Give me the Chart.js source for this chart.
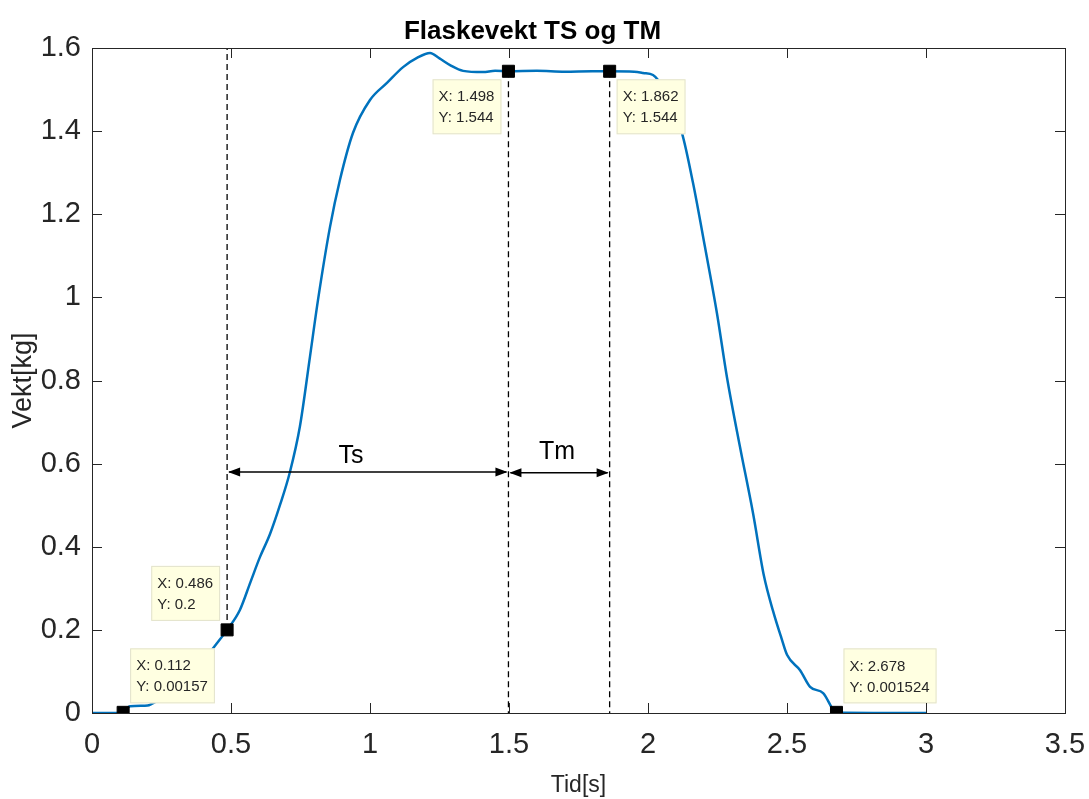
<!DOCTYPE html>
<html>
<head>
<meta charset="utf-8">
<title>Flaskevekt TS og TM</title>
<script src="https://cdn.jsdelivr.net/npm/chart.js@4.4.1/dist/chart.umd.min.js"></script>
<style>
    html, body { margin: 0; padding: 0; background: #fff; }
    #wrap { width: 1089px; height: 799px; }
</style>
</head>
<body>
<div id="wrap"><canvas id="vekt-chart"></canvas></div>
<script>
// maalt vekt mot tid, lest av plottet
const tid = [0, 0.105, 0.112, 0.137, 0.2, 0.215, 0.25, 0.3, 0.35, 0.4,
    0.435, 0.486, 0.532, 0.57, 0.604, 0.64, 0.676, 0.712, 0.748, 0.784,
    0.813, 0.856, 0.892, 0.939, 1.0, 1.061, 1.119, 1.169, 1.216, 1.25,
    1.288, 1.335, 1.406, 1.45, 1.498, 1.6, 1.7, 1.8, 1.862, 1.95,
    1.982, 2.018, 2.036, 2.07, 2.122, 2.162, 2.205, 2.248, 2.284, 2.331,
    2.378, 2.417, 2.45, 2.48, 2.5, 2.547, 2.583, 2.63, 2.678, 3.0];
const vekt = [0, 0, 0.0016, 0.016, 0.018, 0.022, 0.035, 0.06, 0.088, 0.12,
    0.155, 0.2, 0.248, 0.315, 0.375, 0.43, 0.5, 0.58, 0.69, 0.857,
    0.994, 1.169, 1.283, 1.396, 1.475, 1.516, 1.554, 1.576, 1.588, 1.575,
    1.559, 1.545, 1.542, 1.545, 1.544, 1.545, 1.543, 1.544, 1.544, 1.543,
    1.54, 1.535, 1.523, 1.48, 1.396, 1.275, 1.121, 0.962, 0.808, 0.64,
    0.48, 0.33, 0.245, 0.18, 0.14, 0.103, 0.063, 0.048, 0.0015, 0];

const xTicks = [0, 0.5, 1, 1.5, 2, 2.5, 3, 3.5];
const yTicks = [0, 0.2, 0.4, 0.6, 0.8, 1, 1.2, 1.4, 1.6];

// datatips
const tipX = [0.112, 0.486, 1.498, 1.862, 2.678];
const tipY = [0.00157, 0.2, 1.544, 1.544, 0.001524];
const tipTextX = ['0.112', '0.486', '1.498', '1.862', '2.678'];
const tipTextY = ['0.00157', '0.2', '1.544', '1.544', '0.001524'];
const tipSide = ['ne', 'nw', 'sw', 'se', 'ne'];

// stiplede linjer (x, fra y, til y)
const strekX = [0.486, 1.498, 1.862];
const strekFra = [0.2, 1.544, 1.544];
const strekTil = [1.6, 0, 0];

// piler for Ts og Tm
const pilNavn = ['Ts', 'Tm'];
const pilFra = [0.486, 1.498];
const pilTil = [1.498, 1.862];
const pilY = [0.58, 0.578];
const navnX = [0.932, 1.673];
const navnY = [0.602, 0.61];

const FONT = "'Liberation Sans', Arial, Helvetica, sans-serif";
const INK = '#262626';

const strekSets = strekX.map((x, i) => ({
    data: [{ x: x, y: strekFra[i] }, { x: x, y: strekTil[i] }],
    borderColor: '#000',
    borderWidth: 1.3,
    borderDash: [6, 4],
    pointRadius: 0,
    showLine: true,
    order: 3
}));

const boksPlugin = {
    id: 'boks',
    afterDatasetsDraw(chart) {
        const ctx = chart.ctx;
        const area = chart.chartArea;
        const xs = chart.scales.x;
        const ys = chart.scales.y;
        ctx.save();

        // piler
        ctx.strokeStyle = '#000';
        ctx.fillStyle = '#000';
        ctx.lineWidth = 1.5;
        pilNavn.forEach((navn, i) => {
            const x1 = xs.getPixelForValue(pilFra[i]);
            const x2 = xs.getPixelForValue(pilTil[i]);
            const y = ys.getPixelForValue(pilY[i]);
            ctx.beginPath();
            ctx.moveTo(x1 + 2, y);
            ctx.lineTo(x2 - 2, y);
            ctx.stroke();
            [[x1 + 1, 1], [x2 - 1, -1]].forEach(([px, dir]) => {
                ctx.beginPath();
                ctx.moveTo(px, y);
                ctx.lineTo(px + dir * 12, y - 4.5);
                ctx.lineTo(px + dir * 12, y + 4.5);
                ctx.closePath();
                ctx.fill();
            });
            ctx.font = '25px ' + FONT;
            ctx.textAlign = 'center';
            ctx.textBaseline = 'alphabetic';
            ctx.fillText(navn, xs.getPixelForValue(navnX[i]), ys.getPixelForValue(navnY[i]));
        });

        // datatips
        ctx.font = '15px ' + FONT;
        ctx.textAlign = 'left';
        ctx.textBaseline = 'middle';
        tipX.forEach((x, i) => {
            const mx = xs.getPixelForValue(x);
            const my = ys.getPixelForValue(tipY[i]);
            const l1 = 'X: ' + tipTextX[i];
            const l2 = 'Y: ' + tipTextY[i];
            const w = Math.max(ctx.measureText(l1).width, ctx.measureText(l2).width) + 13;
            const h = 55;
            const side = tipSide[i];
            const left = side[1] === 'e' ? mx + 7 : mx - 7 - w;
            const top = side[0] === 'n' ? my - 9 - h : my + 8;
            ctx.fillStyle = '#ffffe1';
            ctx.fillRect(left, top, w, h);
            ctx.strokeStyle = '#e2e2cc';
            ctx.lineWidth = 1;
            ctx.strokeRect(left + 0.5, top + 0.5, w - 1, h - 1);
            ctx.fillStyle = INK;
            ctx.fillText(l1, left + 6, top + 18);
            ctx.fillText(l2, left + 6, top + 39);
        });

        // ramme med innvendige tick-merker
        ctx.strokeStyle = INK;
        ctx.lineWidth = 1;
        ctx.strokeRect(Math.round(area.left) + 0.5, Math.round(area.top) + 0.5,
            Math.round(area.right - area.left), Math.round(area.bottom - area.top));
        ctx.beginPath();
        xTicks.forEach(v => {
            const px = Math.round(xs.getPixelForValue(v)) + 0.5;
            ctx.moveTo(px, area.bottom);
            ctx.lineTo(px, area.bottom - 10);
            ctx.moveTo(px, area.top);
            ctx.lineTo(px, area.top + 10);
        });
        yTicks.forEach(v => {
            const py = Math.round(ys.getPixelForValue(v)) + 0.5;
            ctx.moveTo(area.left, py);
            ctx.lineTo(area.left + 10, py);
            ctx.moveTo(area.right, py);
            ctx.lineTo(area.right - 10, py);
        });
        ctx.stroke();
        ctx.restore();
    }
};

new Chart(document.getElementById('vekt-chart'), {
    type: 'scatter',
    data: {
        datasets: [
            {
                data: tipX.map((x, i) => ({ x: x, y: tipY[i] })),
                pointStyle: 'rect',
                pointRadius: 8.5,
                backgroundColor: '#000',
                borderColor: '#000',
                borderWidth: 1,
                showLine: false,
                order: 1
            },
            {
                data: tid.map((t, i) => ({ x: t, y: vekt[i] })),
                showLine: true,
                borderColor: '#0072bd',
                borderWidth: 2.5,
                pointRadius: 0,
                cubicInterpolationMode: 'monotone',
                order: 2
            },
            ...strekSets
        ]
    },
    options: {
        responsive: true,
        maintainAspectRatio: false,
        animation: false,
        layout: { padding: { left: 0, right: 24, top: 0, bottom: 0 } },
        plugins: {
            legend: { display: false },
            tooltip: { enabled: false },
            title: {
                display: true,
                text: 'Flaskevekt TS og TM',
                color: '#000',
                font: { family: FONT, size: 26, weight: 'bold', lineHeight: 1 },
                padding: { top: 19, bottom: 3 }
            }
        },
        scales: {
            x: {
                type: 'linear',
                min: 0,
                max: 3.5,
                afterBuildTicks: scale => { scale.ticks = xTicks.map(v => ({ value: v })); },
                afterFit: scale => {
                    scale.height = 86;
                    scale.paddingLeft = 0;
                    scale.paddingRight = 0;
                },
                grid: { drawOnChartArea: false, drawTicks: false },
                border: { display: false },
                ticks: {
                    color: INK,
                    padding: 15,
                    maxRotation: 0,
                    font: { family: FONT, size: 29 },
                    callback: v => String(v)
                },
                title: {
                    display: true,
                    text: 'Tid[s]',
                    color: INK,
                    font: { family: FONT, size: 23 },
                    padding: 0
                }
            },
            y: {
                type: 'linear',
                min: 0,
                max: 1.6,
                afterBuildTicks: scale => { scale.ticks = yTicks.map(v => ({ value: v })); },
                afterFit: scale => {
                    scale.width = 92;
                    scale.paddingTop = 0;
                    scale.paddingBottom = 0;
                },
                grid: { drawOnChartArea: false, drawTicks: false },
                border: { display: false },
                ticks: {
                    color: INK,
                    padding: 11,
                    font: { family: FONT, size: 29 },
                    callback: v => String(v)
                },
                title: {
                    display: true,
                    text: 'Vekt[kg]',
                    color: INK,
                    font: { family: FONT, size: 27 },
                    padding: { top: 7, bottom: 0 }
                }
            }
        }
    },
    plugins: [boksPlugin]
});
</script>
</body>
</html>
